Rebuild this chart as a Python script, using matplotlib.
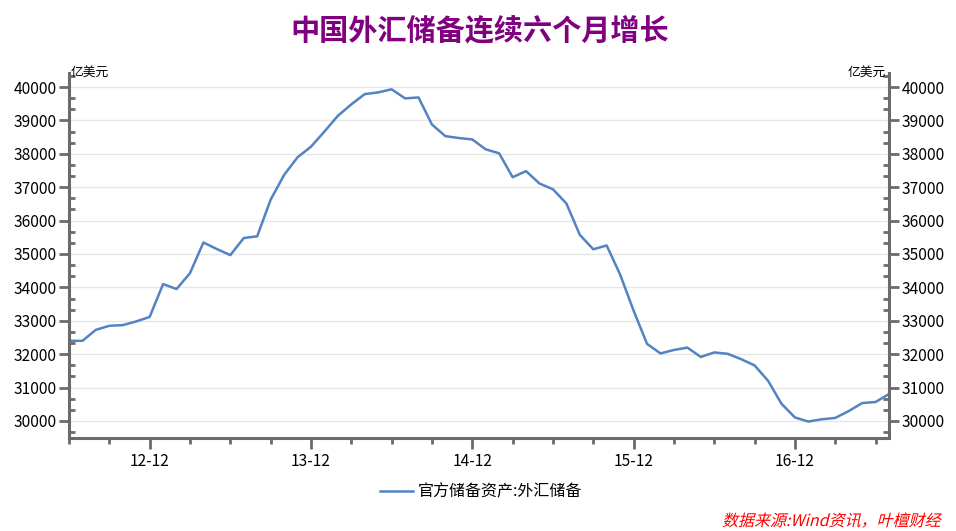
import matplotlib
matplotlib.use("Agg")
import matplotlib.pyplot as plt
from matplotlib.textpath import TextPath
from matplotlib.patches import PathPatch
from matplotlib.font_manager import FontProperties
from matplotlib.ticker import FixedLocator, MultipleLocator
import matplotlib.transforms as mtransforms

plt.rcParams['font.family'] = ['Noto Sans CJK SC', 'DejaVu Sans']

# Monthly data 2012-06 .. 2017-07 (亿美元)
months = ["12-06","12-07","12-08","12-09","12-10","12-11","12-12",
          "13-01","13-02","13-03","13-04","13-05","13-06","13-07","13-08","13-09","13-10","13-11","13-12",
          "14-01","14-02","14-03","14-04","14-05","14-06","14-07","14-08","14-09","14-10","14-11","14-12",
          "15-01","15-02","15-03","15-04","15-05","15-06","15-07","15-08","15-09","15-10","15-11","15-12",
          "16-01","16-02","16-03","16-04","16-05","16-06","16-07","16-08","16-09","16-10","16-11","16-12",
          "17-01","17-02","17-03","17-04","17-05","17-06","17-07"]
reserves = [32400, 32400, 32730, 32850, 32870, 32980, 33116,
            34100, 33950, 34426, 35345, 35148, 34967, 35478, 35530, 36627, 37366, 37895, 38213,
            38666, 39137, 39480, 39788, 39839, 39932, 39660, 39688, 38877, 38529, 38473, 38430,
            38134, 38015, 37300, 37481, 37111, 36938, 36513, 35574, 35141, 35255, 34383, 33304,
            32309, 32023, 32126, 32197, 31917, 32052, 32011, 31851, 31664, 31206, 30516, 30105,
            29982, 30051, 30091, 30295, 30536, 30568, 30807]
tick_labels = ["12-12", "13-12", "14-12", "15-12", "16-12"]
series_name = "官方储备资产:外汇储备"
title = "中国外汇储备连续六个月增长"
unit = "亿美元"
source = "数据来源:Wind资讯，叶檀财经"

W, H = 956, 531
fig = plt.figure(figsize=(W/100, H/100), dpi=100)
ax = fig.add_axes([69/W, 1-438/H, (889-69)/W, (438-73)/H])

x = list(range(len(reserves)))
line, = ax.plot(x, reserves, color='#5283C2', lw=1.8, label=series_name, solid_joinstyle='round')

ax.set_xlim(0, len(reserves)-1)
ax.set_ylim(29490, 40420)

spc = '#6B6B6B'
for s in ['left', 'right', 'bottom']:
    ax.spines[s].set_color(spc)
    ax.spines[s].set_linewidth(2.2)
ax.spines['top'].set_visible(False)

major_x = [months.index(t) for t in tick_labels]
ax.xaxis.set_major_locator(FixedLocator(major_x))
ax.set_xticklabels(tick_labels)
ax.xaxis.set_minor_locator(FixedLocator([i for i in range(0, len(reserves), 3) if i not in major_x]))
ax.tick_params(axis='x', which='major', direction='out', length=8, width=2, color=spc,
               labelsize=11.2, pad=3)
ax.tick_params(axis='x', which='minor', direction='out', length=4, width=2, color=spc)

ax.yaxis.set_major_locator(MultipleLocator(1000))
ax.yaxis.set_minor_locator(MultipleLocator(1000/3))
ax.tick_params(axis='y', which='major', direction='out', length=7, width=2, color=spc,
               labelsize=11.2, left=True, right=True, labelleft=True, labelright=True, pad=2)
ax.tick_params(axis='y', which='minor', direction='in', length=4, width=2, color=spc,
               left=True, right=True)

ax.grid(axis='y', which='major', color='#E6E6E6', lw=1)
ax.set_axisbelow(True)

fig.text(71/W, 1-73/H, unit, fontsize=9.2, ha='left', va='center')
fig.text(886/W, 1-73/H, unit, fontsize=9.2, ha='right', va='center')

fig.text(480/W, 1-30/H, title, fontsize=21, fontweight='bold', color='#800080',
         ha='center', va='center')

fig.legend(handles=[line], loc='center', bbox_to_anchor=(481/W, 1-492/H), frameon=False,
           fontsize=11.5, handlelength=2.1, handletextpad=0.3)

# italic source text (skewed path)
fp = FontProperties(family='Noto Sans CJK SC', size=16)
tp = TextPath((0, 0), source, prop=fp)
bb = tp.get_extents()
tr = mtransforms.Affine2D().skew_deg(14, 0).translate(942 - bb.x1 - 2, H - 526)
patch = PathPatch(tr.transform_path(tp), color='#FF0000', lw=0,
                  transform=mtransforms.IdentityTransform())
fig.patches.append(patch)

fig.savefig("out.png", dpi=100)
